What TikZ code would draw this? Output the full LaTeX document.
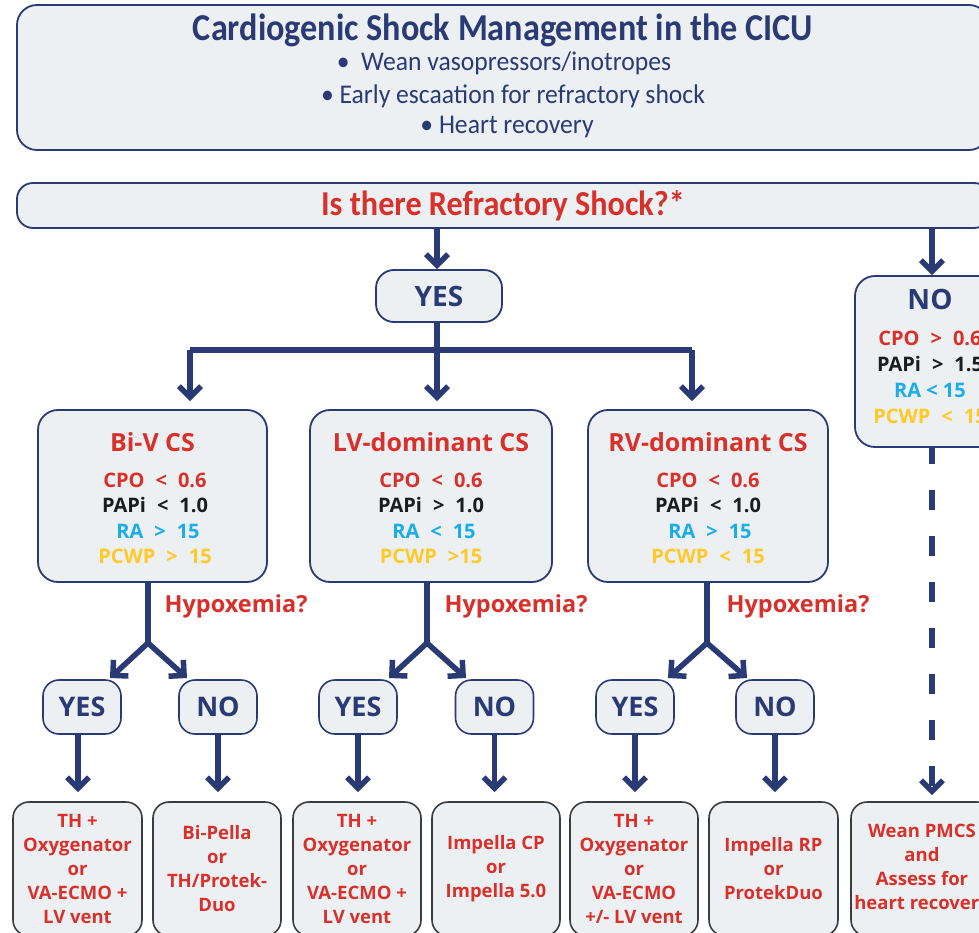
\documentclass[tikz,border=0pt]{standalone}
\usepackage{fontspec}
\setmainfont{Open Sans}
\newfontfamily\calfont{Carlito}
\usetikzlibrary{arrows.meta}

\definecolor{navy}{HTML}{2A3A74}
\definecolor{alert}{HTML}{D8302A}
\definecolor{panelfill}{HTML}{EDF0F2}
\definecolor{sky}{HTML}{1AADE8}
\definecolor{amber}{HTML}{FFC928}
\definecolor{ink}{HTML}{1C1C1C}
\definecolor{edge}{HTML}{3C3C3C}

\newcommand{\gp}{\hspace{0.55em}}

\begin{document}
\begin{tikzpicture}[x=1pt,y=-1pt,
  panel/.style={draw=navy, line width=1.8pt, fill=panelfill, rounded corners=20pt, inner sep=0pt},
  answer/.style={draw=navy, line width=1.6pt, fill=panelfill, rounded corners=16pt, inner sep=0pt,
    minimum width=78pt, minimum height=54pt, text=navy, font=\bfseries\fontsize{27}{30}\selectfont},
  therapy/.style={draw=edge, line width=1.6pt, fill=panelfill, rounded corners=16pt, inner sep=0pt,
    minimum height=134pt, text=alert, align=center, font=\bfseries\fontsize{18.5}{24}\selectfont},
  cstitle/.style={text=alert, font=\bfseries\fontsize{25}{28}\selectfont},
  metric/.style={font=\bfseries\fontsize{20}{22}\selectfont},
  question/.style={text=alert, anchor=west, font=\bfseries\fontsize{23.5}{26}\selectfont},
  flow/.style={draw=navy, line width=5.5pt, -{Straight Barb[length=11pt,width=22pt]}},
  trunk/.style={draw=navy, line width=5.5pt},
]
\clip (0,0) rectangle (979,933);
\fill[white] (0,0) rectangle (979,933);

% header panel
\node[panel, minimum width=972pt, minimum height=145pt] (head) at (503,77.5) {};
\node[text=navy, font=\calfont\bfseries\fontsize{38}{42}\selectfont] (headtitle) at (503,30)
  {\scalebox{0.9}[1]{Cardiogenic Shock Management in the CICU}};
\node[text=navy, font=\calfont\fontsize{27}{30}\selectfont] (b1) at (504,63) {\scalebox{0.95}[1]{\textbullet\ \ Wean vasopressors/inotropes}};
\node[text=navy, font=\calfont\fontsize{27}{30}\selectfont] (b2) at (513,96) {\scalebox{0.95}[1]{\textbullet\ Early escaation for refractory shock}};
\node[text=navy, font=\calfont\fontsize{27}{30}\selectfont] (b3) at (507,127) {\scalebox{0.95}[1]{\textbullet\ Heart recovery}};

% refractory shock question
\node[panel, rounded corners=16pt, minimum width=973pt, minimum height=45pt] (refr) at (503.5,205.5) {};
\node[text=alert, font=\calfont\bfseries\fontsize{35}{38}\selectfont] (refrtext) at (503,206)
  {\scalebox{0.92}[1]{Is there Refractory Shock?*}};

% first decision
\node[panel, rounded corners=18pt, minimum width=126pt, minimum height=52pt, text=navy,
  font=\bfseries\fontsize{28}{30}\selectfont] (yes) at (439,296) {YES};
\node[panel, minimum width=150pt, minimum height=171pt] (no) at (930,361.5) {};
\node[text=navy, font=\bfseries\fontsize{28}{30}\selectfont] (notitle) at (930,299) {NO};
\node[metric, text=alert] (no1) at (930,338) {CPO\gp>\gp0.6};
\node[metric, text=ink] (no2) at (930,364) {PAPi\gp>\gp1.5};
\node[metric, text=sky] (no3) at (930,390) {RA < 15};
\node[metric, text=amber] (no4) at (930,416) {PCWP\gp<\gp15};

% phenotype panels
\node[panel, minimum width=229pt, minimum height=172pt] (biv) at (152.5,496) {};
\node[cstitle] (bivt) at (152.5,442) {Bi-V CS};
\node[metric, text=alert] (biv1) at (155,480) {CPO\gp<\gp0.6};
\node[metric, text=ink] (biv2) at (155,505) {PAPi\gp<\gp1.0};
\node[metric, text=sky] (biv3) at (158,531) {RA\gp>\gp15};
\node[metric, text=amber] (biv4) at (155,556) {PCWP\gp>\gp15};

\node[panel, minimum width=242pt, minimum height=172pt] (lv) at (431,496) {};
\node[cstitle] (lvt) at (431,442) {LV-dominant CS};
\node[metric, text=alert] (lv1) at (431,480) {CPO\gp<\gp0.6};
\node[metric, text=ink] (lv2) at (431,505) {PAPi\gp>\gp1.0};
\node[metric, text=sky] (lv3) at (434,531) {RA\gp<\gp15};
\node[metric, text=amber] (lv4) at (431,556) {PCWP\gp>15};

\node[panel, minimum width=240pt, minimum height=172pt] (rv) at (708,496) {};
\node[cstitle] (rvt) at (708,442) {RV-dominant CS};
\node[metric, text=alert] (rv1) at (708,480) {CPO\gp<\gp0.6};
\node[metric, text=ink] (rv2) at (708,505) {PAPi\gp<\gp1.0};
\node[metric, text=sky] (rv3) at (710,531) {RA\gp>\gp15};
\node[metric, text=amber] (rv4) at (708,556) {PCWP\gp<\gp15};

% hypoxemia questions
\node[question] (qbiv) at (161,606) {Hypoxemia?};
\node[question] (qlv) at (441,606) {Hypoxemia?};
\node[question] (qrv) at (723,606) {Hypoxemia?};

% answers
\node[answer] (bivy) at (82,707) {YES};
\node[answer] (bivn) at (218,707) {NO};
\node[answer] (lvy) at (358,707) {YES};
\node[answer] (lvn) at (494.5,707) {NO};
\node[answer] (rvy) at (635,707) {YES};
\node[answer] (rvn) at (775,707) {NO};

% therapies
\node[therapy, minimum width=129pt] (t1) at (77.5,869) {TH +\\Oxygenator\\or\\VA-ECMO +\\LV vent};
\node[therapy, minimum width=128pt] (t2) at (217,869) {Bi-Pella\\or\\TH/Protek-\\Duo};
\node[therapy, minimum width=128pt] (t3) at (357,869) {TH +\\Oxygenator\\or\\VA-ECMO +\\LV vent};
\node[therapy, minimum width=128pt] (t4) at (496,869) {Impella CP\\or\\Impella 5.0};
\node[therapy, minimum width=128pt] (t5) at (634,869) {TH +\\Oxygenator\\or\\VA-ECMO\\+/- LV vent};
\node[therapy, minimum width=129pt] (t6) at (773.5,869) {Impella RP\\or\\ProtekDuo};
\node[therapy, minimum width=142pt] (t7) at (922,869) {Wean PMCS\\and\\Assess for\\heart recovery};

% branch points
\coordinate (split) at (437,350);
\coordinate (busl) at (190,350);
\coordinate (busr) at (692,350);
\coordinate (nox) at (932,0);
\coordinate (sbiv) at (148,643);
\coordinate (slv) at (427,643);
\coordinate (srv) at (707,643);
\coordinate (tbivy) at (110,678);
\coordinate (tbivn) at (187,678);
\coordinate (tlvy) at (389,678);
\coordinate (tlvn) at (466,678);
\coordinate (trvy) at (668,678);
\coordinate (trvn) at (747,678);

% connectors
\draw[flow] (refr.south -| split) -- (yes.north -| split);
\draw[flow] (refr.south -| nox) -- (no.north -| nox);
\draw[trunk] (yes.south -| split) -- (split);
\draw[trunk] (busl) -- (busr);
\draw[flow, shorten >=8pt] (busl) -- (busl |- biv.north);
\draw[flow, shorten >=8pt] (split) -- (split |- lv.north);
\draw[flow, shorten >=8pt] (busr) -- (busr |- rv.north);

\draw[trunk] (sbiv |- biv.south) -- (sbiv);
\draw[flow] (sbiv) -- (tbivy);
\draw[flow] (sbiv) -- (tbivn);
\draw[trunk] (slv |- lv.south) -- (slv);
\draw[flow] (slv) -- (tlvy);
\draw[flow] (slv) -- (tlvn);
\draw[trunk] (srv |- rv.south) -- (srv);
\draw[flow] (srv) -- (trvy);
\draw[flow] (srv) -- (trvn);

\draw[flow, shorten >=9pt] (bivy.south -| 78,0) -- (t1.north -| 78,0);
\draw[flow, shorten >=9pt] (bivn.south) -- (t2.north -| bivn);
\draw[flow, shorten >=9pt] (lvy.south) -- (t3.north -| lvy);
\draw[flow, shorten >=9pt] (lvn.south) -- (t4.north -| lvn);
\draw[flow, shorten >=9pt] (rvy.south) -- (t5.north -| rvy);
\draw[flow, shorten >=9pt] (rvn.south) -- (t6.north -| rvn);
\draw[flow, shorten >=6pt, dash pattern=on 20pt off 26pt, dash phase=4pt] (no.south -| nox) -- (t7.north -| nox);
\end{tikzpicture}
\end{document}
